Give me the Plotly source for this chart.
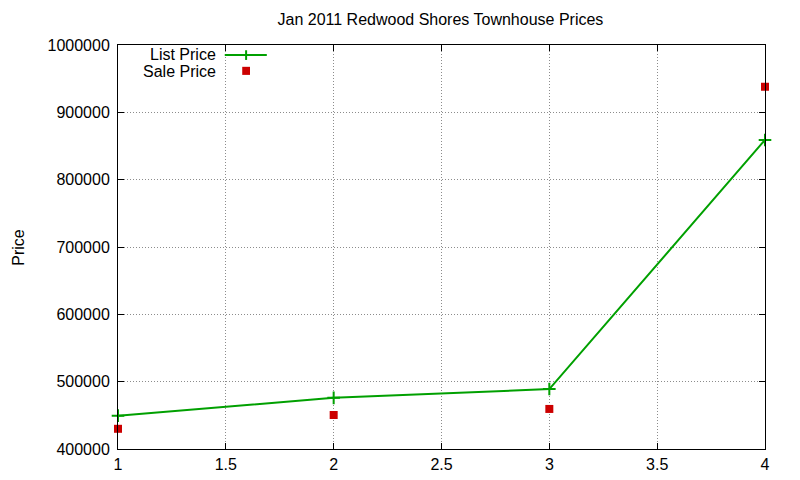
import plotly.graph_objects as go

# month index (x) and prices
months = [1, 2, 3, 4]
list_price = [449500, 476000, 489000, 859000]
sale_price = [430000, 450500, 459500, 938000]

GREEN = '#00a000'
RED = '#cc0000'
FONT = 'Liberation Sans, Arial, sans-serif'

fig = go.Figure()
fig.add_scatter(x=months, y=list_price, mode='lines+markers',
                name='List Price',
                line=dict(color=GREEN, width=2),
                marker=dict(symbol='cross-thin', size=9,
                            line=dict(color=GREEN, width=2)),
                cliponaxis=False)
fig.add_scatter(x=months, y=sale_price, mode='markers',
                name='Sale Price',
                marker=dict(symbol='square', size=8, color=RED),
                cliponaxis=False)

# gnuplot-style key: text right aligned, sample to the right of it
key_rows = [('List Price', 0.976), ('Sale Price', 0.935)]
for label, ky in key_rows:
    fig.add_annotation(x=0.153, y=ky, xref='paper', yref='paper',
                       text=label, showarrow=False, xanchor='right',
                       yanchor='middle', borderpad=0,
                       font=dict(size=16, color='black'))
fig.add_shape(type='line', xref='paper', yref='paper',
              x0=0.165, x1=0.230, y0=0.975, y1=0.975,
              line=dict(color=GREEN, width=2))
fig.add_shape(type='line', xref='paper', yref='paper',
              x0=0.198, x1=0.198, y0=0.963, y1=0.987,
              line=dict(color=GREEN, width=2))
fig.add_shape(type='rect', xref='paper', yref='paper',
              x0=0.192, x1=0.204, y0=0.926, y1=0.946,
              fillcolor=RED, line=dict(width=0))

# y axis label, placed by hand like gnuplot does
fig.add_annotation(x=-0.155, y=0.5, xref='paper', yref='paper',
                   text='Price', showarrow=False, textangle=-90,
                   xanchor='center', yanchor='middle',
                   font=dict(size=16, color='black'))

axis_style = dict(showline=True, linecolor='black', linewidth=1,
                  mirror='ticks', ticks='inside', ticklen=6,
                  tickcolor='black', showgrid=True, gridcolor='#8c8c8c',
                  griddash='1px,2px', gridwidth=1, zeroline=False,
                  automargin=False,
                  tickfont=dict(size=16, color='black'))

fig.update_xaxes(range=[1, 4], dtick=0.5, ticklabelstandoff=1, **axis_style)
fig.update_yaxes(range=[400000, 1000000], dtick=100000, tickformat='d',
                 ticklabelstandoff=4, **axis_style)

# page body has an 8px margin, so the figure is a little smaller than the window
fig.update_layout(
    width=792, height=472,
    margin=dict(l=110, r=35, t=37, b=31),
    plot_bgcolor='white', paper_bgcolor='white',
    font=dict(family=FONT, size=16, color='black'),
    title=dict(text='Jan 2011 Redwood Shores Townhouse Prices',
               x=0.546, xanchor='center', y=0.975, yanchor='middle',
               font=dict(size=16, color='black')),
    showlegend=False,
)

fig.write_html('out.html')
